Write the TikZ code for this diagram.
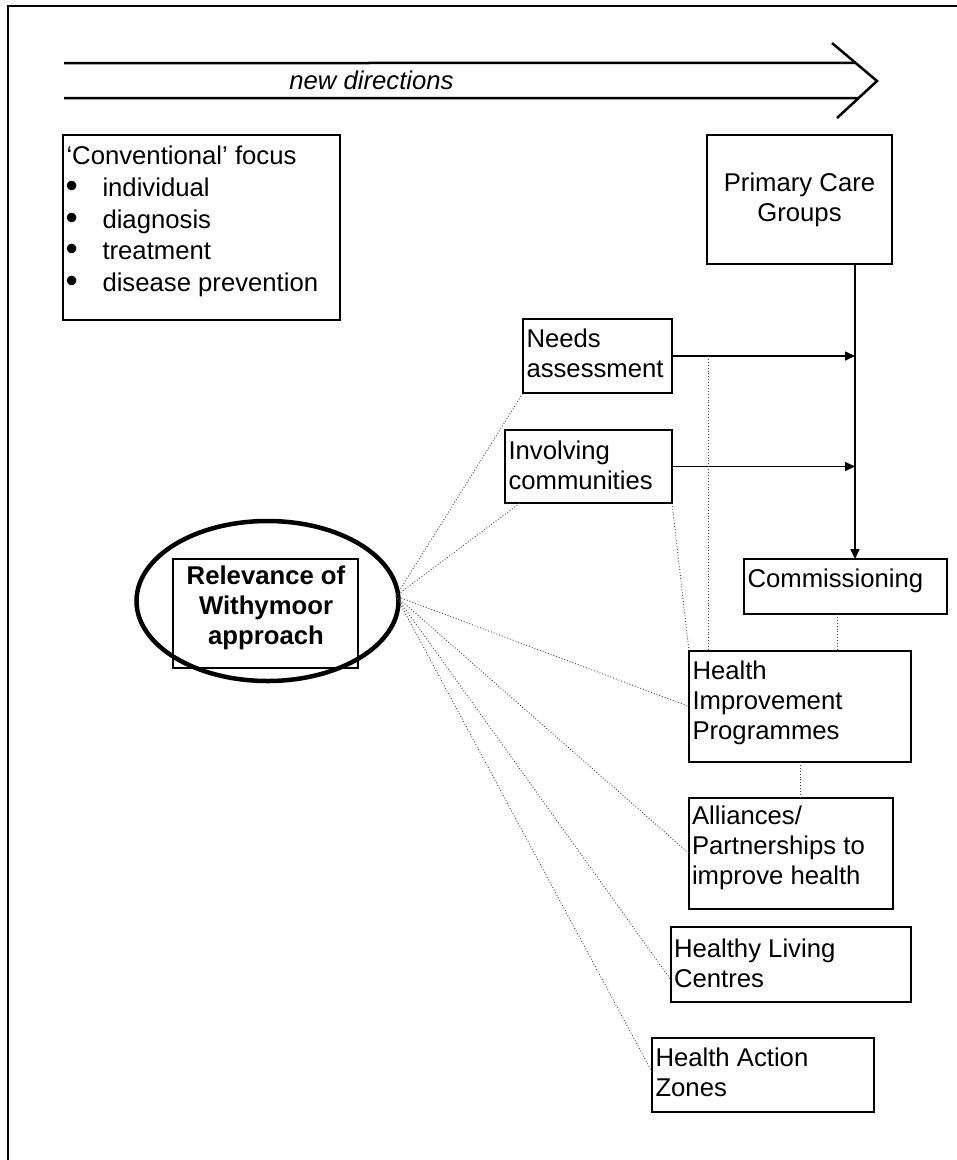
\documentclass[tikz,border=0pt]{standalone}
\usepackage{fontspec}
\setmainfont{Liberation Sans}
\usetikzlibrary{arrows.meta,shapes.geometric,calc}
\newcommand\fsz{\fontsize{25.7}{30}\selectfont}
\newcommand\bul{\makebox[36pt][l]{\hspace{-1pt}\raisebox{-1pt}{\scalebox{1.35}{\textbullet}}}}
\tikzset{
  box/.style={draw, line width=1.3pt, anchor=north west, inner sep=0pt, outer sep=0pt},
  thickbox/.style={box, line width=2.5pt},
  txt/.style={anchor=north west, inner sep=0pt, outer sep=0pt, align=left, font=\fsz},
  dotline/.style={dotted, line width=0.9pt, black!75},
  arr/.style={line width=1.6pt, -{Triangle[length=10pt,width=9pt]}},
  bigarrow/.style={line width=2.5pt},
}
\begin{document}
\begin{tikzpicture}[x=1pt,y=-1pt]
\useasboundingbox (0,0) rectangle (957,1160);
% frame (only top and left visible)
\draw[line width=2.5pt] (8,1165) -- (8,6) -- (962,6);

% new directions arrow
\coordinate (ctop) at (832,43);
\coordinate (ctip) at (877,81);
\coordinate (cbot) at (837,118);
\draw[bigarrow] (64,63) -- ($(ctop)!0.526!(ctip)$);
\draw[bigarrow] (64,98) -- ($(ctip)!0.46!(cbot)$);
\draw[bigarrow, line join=miter] (ctop) -- (ctip) -- (cbot);
\node[font=\fsz\itshape, inner sep=0pt] (nd) at (371.5,80) {new directions};

% conventional focus
\node[box, minimum width=277pt, minimum height=185pt] (conv) at (63,135) {};
\node[txt, font=\fontsize{25.7}{31.7}\selectfont] (convt) at (66.5,146)
  {‘Conventional’ focus\\
   \bul individual\\
   \bul diagnosis\\
   \bul treatment\\
   \bul disease prevention};

% primary care groups
\node[box, minimum width=185pt, minimum height=129pt] (pcg) at (707,135) {};
\node[font=\fsz, align=center, inner sep=0pt] (pcgt) at (pcg.center) {Primary Care\\Groups};

% needs assessment
\node[box, minimum width=149pt, minimum height=74pt] (needs) at (523,319) {};
\node[txt] (needst) at (526.5,329) {Needs\\assessment};

% involving communities
\node[thickbox, minimum width=167pt, minimum height=73pt] (inv) at (505,430) {};
\node[txt] (invt) at (508.5,441) {Involving\\communities};

% commissioning
\node[box, minimum width=203pt, minimum height=55pt] (comm) at (744,559) {};
\node[txt] (commt) at (747.5,569) {Commissioning};

% health improvement programmes
\node[box, minimum width=222pt, minimum height=111pt] (hip) at (689,651) {};
\node[txt] (hipt) at (692.5,661) {Health\\Improvement\\Programmes};

% alliances
\node[box, minimum width=204pt, minimum height=111pt] (alli) at (689,798) {};
\node[txt] (allit) at (692,806) {Alliances/\\Partnerships to\\improve health};

% healthy living centres
\node[thickbox, minimum width=240pt, minimum height=75pt] (hlc) at (671,927) {};
\node[txt] (hlct) at (674,939) {Healthy Living\\Centres};

% health action zones
\node[thickbox, minimum width=222pt, minimum height=74pt] (haz) at (652,1038) {};
\node[txt] (hazt) at (655.5,1048) {Health Action\\Zones};

% relevance ellipse
\node[draw, ellipse, line width=4.5pt, minimum width=262pt, minimum height=160pt, inner sep=0pt, outer sep=0pt] (ell) at (267.5,601) {};
\node[thickbox, minimum width=185pt, minimum height=109pt] (rel) at (173,559) {};
\node[font=\fsz\bfseries, align=center, inner sep=0pt] (relt) at (266,607.5) {Relevance of\\Withymoor\\approach};

% connectors
\coordinate (vline) at (855,0);
\coordinate (dline) at (708,0);
\draw[arr] (pcg.south -| vline) -- (comm.north -| vline);
\draw[arr] (needs.east) -- (needs.east -| vline);
\draw[arr] (inv.east) -- (inv.east -| vline);

\draw[dotline] (needs.east -| dline) -- (hip.north -| dline);
\draw[dotline] (inv.south east) -- (hip.north west);
\coordinate (c1) at (837,0);
\draw[dotline] (comm.south -| c1) -- (hip.north -| c1);
\coordinate (c2) at (800,0);
\draw[dotline] (hip.south -| c2) -- (alli.north -| c2);

\coordinate (hub) at (396,596);
\draw[dotline] (hub) -- (needs.south west);
\draw[dotline] (hub) -- ($(inv.south west)+(15,0)$);
\draw[dotline] (hub) -- (hip.west);
\draw[dotline] (hub) -- (alli.west);
\draw[dotline] (hub) -- ($(hlc.south west)+(0,-22)$);
\draw[dotline] (hub) -- ($(haz.south west)+(0,-40)$);
\end{tikzpicture}
\end{document}
